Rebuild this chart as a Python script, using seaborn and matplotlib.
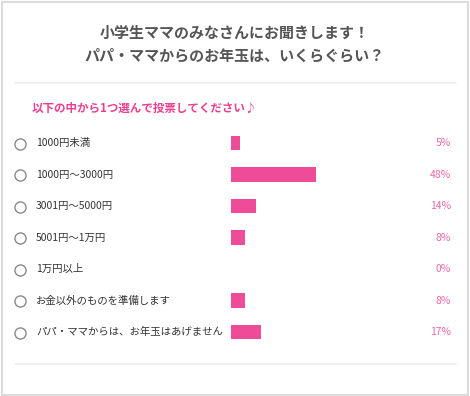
import matplotlib
matplotlib.use("Agg")
import matplotlib.pyplot as plt
import matplotlib.transforms as mtransforms
from matplotlib.patches import Rectangle
from matplotlib.lines import Line2D
import seaborn as sns
import pandas as pd

sns.set_theme(style="white")
plt.rcParams['font.family'] = ['Noto Sans CJK JP', 'DejaVu Sans']

title_lines = ["小学生ママのみなさんにお聞きします！", "パパ・ママからのお年玉は、いくらぐらい？"]
subtitle = "以下の中から1つ選んで投票してください♪"
categories = ["1000円未満", "1000円～3000円", "3001円～5000円", "5001円～1万円",
              "1万円以上", "お金以外のものを準備します", "パパ・ママからは、お年玉はあげません"]
percents = [5, 48, 14, 8, 0, 8, 17]

W, H = 470, 396
fig = plt.figure(figsize=(W / 100, H / 100), dpi=100)
fig.patch.set_facecolor("white")

def fx(px):
    return px / W

def fy(py):
    return 1 - py / H

# outer border
fig.add_artist(Rectangle((fx(1.5), fy(394.5)), fx(466.5), (393) / H, transform=fig.transFigure,
                         fill=False, edgecolor="#dcdcdc", linewidth=1.5))

# title
fig.text(0.5, fy(33), title_lines[0], ha="center", va="center", fontsize=10.8,
         fontweight="bold", color="#555555")
fig.text(0.5, fy(56), title_lines[1], ha="center", va="center", fontsize=10.8,
         fontweight="bold", color="#555555")

# separators
for yy in (83, 364):
    fig.add_artist(Line2D([fx(15), fx(456)], [fy(yy), fy(yy)], transform=fig.transFigure,
                          color="#eeeeee", linewidth=1.2))

# subtitle
fig.text(fx(32), fy(108), subtitle, ha="left", va="center", fontsize=8.3,
         fontweight="bold", color="#ee3f8f")

# bar axes: x 0..100 mapped to px 231..408 ; rows at 143 + 31.5*i
row0, step = 143, 31.5
top = row0 - step / 2
bottom = row0 + step * (len(categories) - 0.5)
ax = fig.add_axes([fx(231), fy(bottom), 177 / W, (bottom - top) / H])
df = pd.DataFrame({"cat": categories, "pct": percents})
sns.barplot(data=df, x="pct", y="cat", orient="h", ax=ax, color="#ee4c98",
            saturation=1, width=0.46, linewidth=0)
ax.set_xlim(0, 100)
ax.set_ylim(len(categories) - 0.5, -0.5)
ax.axis("off")

blend = mtransforms.blended_transform_factory(fig.transFigure, ax.transData)
for i, (cat, p) in enumerate(zip(categories, percents)):
    ax.plot([fx(20)], [i + 0.02], marker="o", ms=8, mfc="white", mec="#8a8a8a", mew=1.0,
            transform=blend, clip_on=False)
    ax.text(fx(36), i, cat, transform=blend, ha="left", va="center", fontsize=7.5,
            color="#333333")
    ax.text(fx(451), i, f"{p}%", transform=blend, ha="right", va="center", fontsize=7.5,
            color="#f06aa6")

fig.savefig("out.png", dpi=100, facecolor="white")
